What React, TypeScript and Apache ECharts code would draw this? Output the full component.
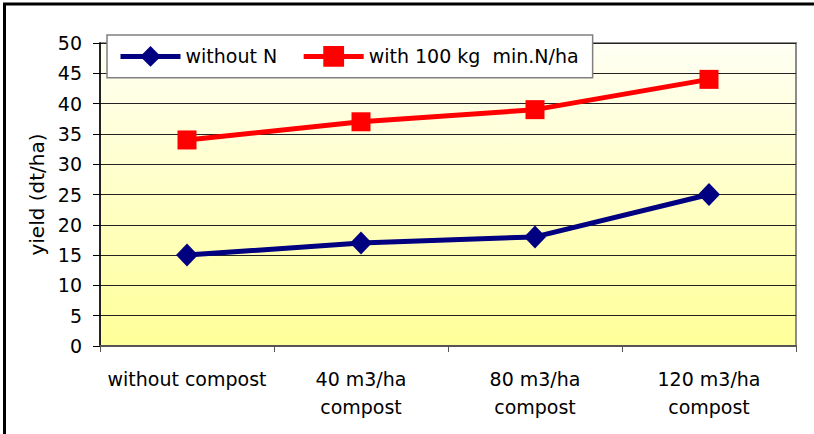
import React, { useEffect, useRef } from "react";
import * as echarts from "echarts";

const categories = ["without compost", "40 m3/ha\ncompost", "80 m3/ha\ncompost", "120 m3/ha\ncompost"];
const withoutN = [15, 17, 18, 25];
const with100N = [34, 37, 39, 44];
const seriesNames = ["without N", "with 100 kg  min.N/ha"];
const yAxisTitle = "yield (dt/ha)";

const FONT = "DejaVu Sans";

export default function App() {
  const ref = useRef<HTMLDivElement>(null);
  useEffect(() => {
    if (!ref.current) return;
    const chart = echarts.init(ref.current, undefined, { renderer: "svg" });
    chart.setOption({
      animation: false,
      backgroundColor: "#ffffff",
      textStyle: { fontFamily: FONT, color: "#000" },
      graphic: [
        {
          type: "rect",
          shape: { x: 4.5, y: 4, width: 830, height: 450 },
          style: { fill: "none", stroke: "#000", lineWidth: 3 },
          z: 100,
        },
      ],
      grid: {
        left: 100,
        top: 43,
        right: 18,
        bottom: 88,
        show: true,
        borderColor: "#8c8c8c",
        borderWidth: 2,
        backgroundColor: new echarts.graphic.LinearGradient(0, 0, 0, 1, [
          { offset: 0, color: "#fffff4" },
          { offset: 1, color: "#ffff99" },
        ]),
      },
      legend: {
        left: 107,
        top: 35,
        orient: "horizontal",
        backgroundColor: "#ffffff",
        borderColor: "#808080",
        borderWidth: 1.5,
        padding: [11, 14, 11, 11],
        itemWidth: 60,
        itemHeight: 26,
        itemGap: 24,
        lineStyle: { width: 5 },
        textStyle: { fontFamily: FONT, fontSize: 19, color: "#000" },
        data: seriesNames,
      },
      xAxis: {
        type: "category",
        data: categories,
        boundaryGap: true,
        axisLine: { show: true, lineStyle: { color: "#555", width: 2 } },
        axisTick: { show: true, alignWithLabel: false, length: 6, lineStyle: { color: "#555", width: 1 } },
        axisLabel: {
          fontFamily: FONT,
          fontSize: 19,
          color: "#000",
          margin: 19,
          lineHeight: 28,
          interval: 0,
        },
        splitLine: { show: false },
      },
      yAxis: {
        type: "value",
        min: 0,
        max: 50,
        interval: 5,
        name: yAxisTitle,
        nameLocation: "middle",
        nameGap: 50,
        nameRotate: 90,
        nameTextStyle: { fontFamily: FONT, fontSize: 20, color: "#000" },
        axisLine: { show: true, lineStyle: { color: "#000", width: 1.5 } },
        axisTick: { show: true, length: 7, inside: false, lineStyle: { color: "#000", width: 1 } },
        axisLabel: { fontFamily: FONT, fontSize: 19, color: "#000", margin: 18 },
        splitLine: { show: true, lineStyle: { color: "#222", width: 1 } },
      },
      series: [
        {
          name: seriesNames[0],
          type: "line",
          data: withoutN,
          symbol: "diamond",
          symbolSize: [22, 23],
          lineStyle: { color: "#000080", width: 5 },
          itemStyle: { color: "#000080" },
          z: 3,
        },
        {
          name: seriesNames[1],
          type: "line",
          data: with100N,
          symbol: "rect",
          symbolSize: 19,
          lineStyle: { color: "#ff0000", width: 5 },
          itemStyle: { color: "#ff0000" },
          z: 3,
        },
      ],
    });
    return () => chart.dispose();
  }, []);
  return (
    <div
      ref={ref}
      style={{ position: "absolute", left: 0, top: 0, width: 814, height: 434 }}
    />
  );
}
